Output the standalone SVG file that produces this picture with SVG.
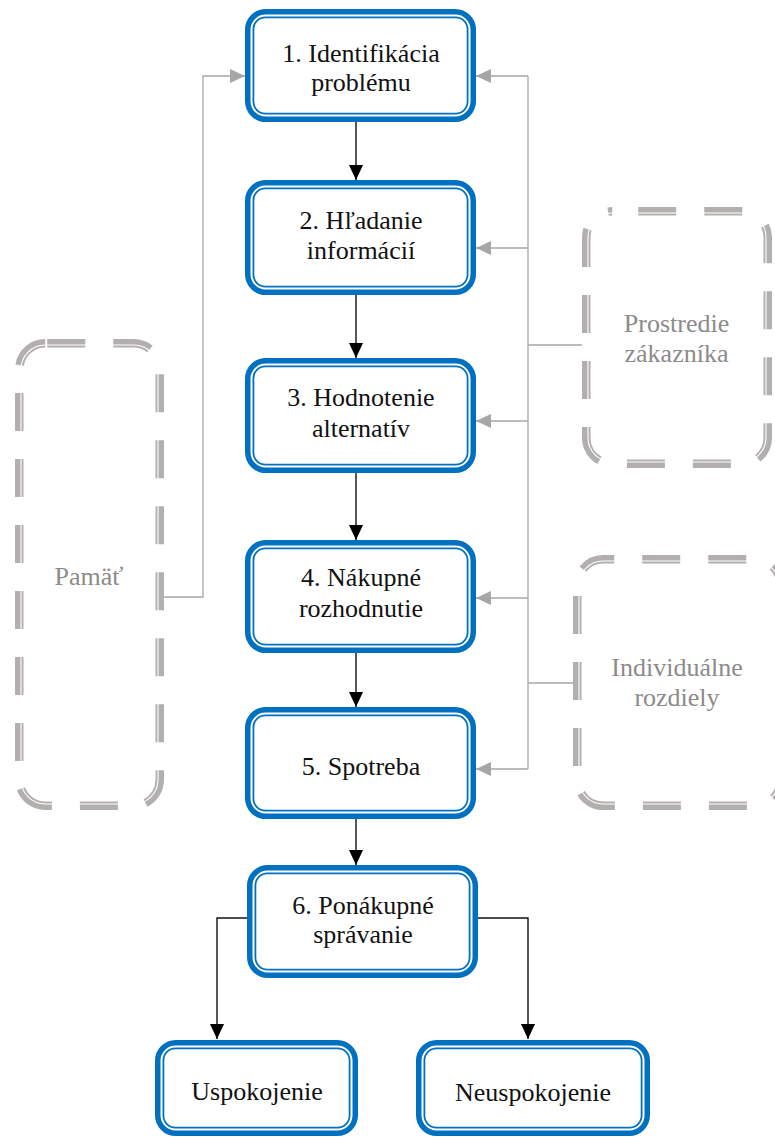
<svg xmlns="http://www.w3.org/2000/svg" width="775" height="1138" viewBox="0 0 775 1138">
  <style>
    .outer { fill: #ffffff; stroke: #0070C0; stroke-width: 5.5; }
    .inner { fill: none; stroke: #0070C0; stroke-width: 1.8; }
    .lbl { font-family: "Liberation Serif", "Times New Roman", serif; font-size: 26px; fill: #111111; text-anchor: middle; }
    .glbl { font-family: "Liberation Serif", "Times New Roman", serif; font-size: 26px; fill: #8c8a8a; text-anchor: middle; }
    .dash { fill: #ffffff; stroke: #b3afae; stroke-width: 8.5; stroke-dasharray: 38 28; }
    .split { fill: none; stroke: #ffffff; stroke-width: 1.1; }
    .flow { fill: none; stroke: #111111; stroke-width: 1.4; marker-end: url(#arrowBlack); }
    .infl { fill: none; stroke: #a6a6a6; stroke-width: 1.3; }
    .infl-arrow { fill: none; stroke: #a6a6a6; stroke-width: 1.3; marker-end: url(#arrowGray); }
  </style>
  <defs>
    <marker id="arrowBlack" markerUnits="userSpaceOnUse" markerWidth="15" markerHeight="14" refX="15" refY="7" orient="auto">
      <path d="M0,0 L15,7 L0,14 z" fill="#000000"/>
    </marker>
    <marker id="arrowGray" markerUnits="userSpaceOnUse" markerWidth="15" markerHeight="14" refX="15" refY="7" orient="auto">
      <path d="M0,0 L15,7 L0,14 z" fill="#a6a6a6"/>
    </marker>
  </defs>
  <rect width="775" height="1138" fill="#ffffff"/>

  <!-- influence boxes (double dashed outline) -->
  <g id="pamat">
    <rect class="dash" x="19.25" y="343.25" width="140.5" height="462.5" rx="26" style="stroke-dashoffset:64"/>
    <rect class="split" x="21" y="345" width="137" height="459" rx="24.25"/>
    <text class="glbl" x="89" y="585">Pamäť</text>
  </g>
  <g id="prostredie">
    <rect class="dash" x="586.25" y="211.25" width="181.5" height="252.5" rx="26" style="stroke-dashoffset:40"/>
    <rect class="split" x="588" y="213" width="178" height="249" rx="24.25"/>
    <text class="glbl" x="676.5" y="332">Prostredie</text>
    <text class="glbl" x="676.5" y="362">zákazníka</text>
  </g>
  <g id="individualne">
    <rect class="dash" x="577.25" y="559.25" width="203.5" height="246.5" rx="26" style="stroke-dashoffset:27"/>
    <rect class="split" x="579" y="561" width="200" height="243" rx="24.25"/>
    <text class="glbl" x="677" y="676">Individuálne</text>
    <text class="glbl" x="677" y="706">rozdiely</text>
  </g>

  <!-- connectors -->
  <g id="connectors">
    <path class="flow" d="M356,122 V180"/>
    <path class="flow" d="M356,295 V358"/>
    <path class="flow" d="M356,473 V540"/>
    <path class="flow" d="M356,653 V707"/>
    <path class="flow" d="M356,819 V865"/>
    <path class="flow" d="M249,918 H217 V1039"/>
    <path class="flow" d="M476,918 H528 V1039"/>

    <path class="infl" d="M528,76 V769"/>
    <path class="infl-arrow" d="M528,76 H476"/>
    <path class="infl-arrow" d="M528,248 H476"/>
    <path class="infl-arrow" d="M528,421 H476"/>
    <path class="infl-arrow" d="M528,598 H476"/>
    <path class="infl-arrow" d="M528,769 H476"/>
    <path class="infl" d="M528,345 H582"/>
    <path class="infl" d="M528,683 H573"/>
    <path class="infl-arrow" d="M164,597 H203 V76 H245"/>
  </g>

  <!-- decision process steps -->
  <g id="step1">
    <rect class="outer" x="247.75" y="11.75" width="225.5" height="107.5" rx="18"/>
    <rect class="inner" x="253.4" y="17.4" width="214.2" height="96.2" rx="12"/>
    <text class="lbl" x="361" y="62">1. Identifikácia</text>
    <text class="lbl" x="361" y="91">problému</text>
  </g>
  <g id="step2">
    <rect class="outer" x="247.75" y="182.75" width="225.5" height="109.5" rx="18"/>
    <rect class="inner" x="253.4" y="188.4" width="214.2" height="98.2" rx="12"/>
    <text class="lbl" x="361" y="229">2. Hľadanie</text>
    <text class="lbl" x="361" y="259">informácií</text>
  </g>
  <g id="step3">
    <rect class="outer" x="247.75" y="360.75" width="225.5" height="109.5" rx="18"/>
    <rect class="inner" x="253.4" y="366.4" width="214.2" height="98.2" rx="12"/>
    <text class="lbl" x="361" y="406">3. Hodnotenie</text>
    <text class="lbl" x="361" y="437">alternatív</text>
  </g>
  <g id="step4">
    <rect class="outer" x="247.75" y="542.75" width="225.5" height="107.5" rx="18"/>
    <rect class="inner" x="253.4" y="548.4" width="214.2" height="96.2" rx="12"/>
    <text class="lbl" x="361" y="586">4. Nákupné</text>
    <text class="lbl" x="361" y="617">rozhodnutie</text>
  </g>
  <g id="step5">
    <rect class="outer" x="247.75" y="709.75" width="225.5" height="106.5" rx="18"/>
    <rect class="inner" x="253.4" y="715.4" width="214.2" height="95.2" rx="12"/>
    <text class="lbl" x="361" y="775">5. Spotreba</text>
  </g>
  <g id="step6">
    <rect class="outer" x="249.75" y="867.75" width="225.5" height="107.5" rx="18"/>
    <rect class="inner" x="255.4" y="873.4" width="214.2" height="96.2" rx="12"/>
    <text class="lbl" x="363" y="914">6. Ponákupné</text>
    <text class="lbl" x="363" y="943">správanie</text>
  </g>
  <g id="uspokojenie">
    <rect class="outer" x="157.75" y="1042.75" width="197.5" height="90.5" rx="18"/>
    <rect class="inner" x="163.4" y="1048.4" width="186.2" height="79.2" rx="12"/>
    <text class="lbl" x="257" y="1100">Uspokojenie</text>
  </g>
  <g id="neuspokojenie">
    <rect class="outer" x="418.75" y="1042.75" width="228.5" height="90.5" rx="18"/>
    <rect class="inner" x="424.4" y="1048.4" width="217.2" height="79.2" rx="12"/>
    <text class="lbl" x="533" y="1101">Neuspokojenie</text>
  </g>
</svg>
